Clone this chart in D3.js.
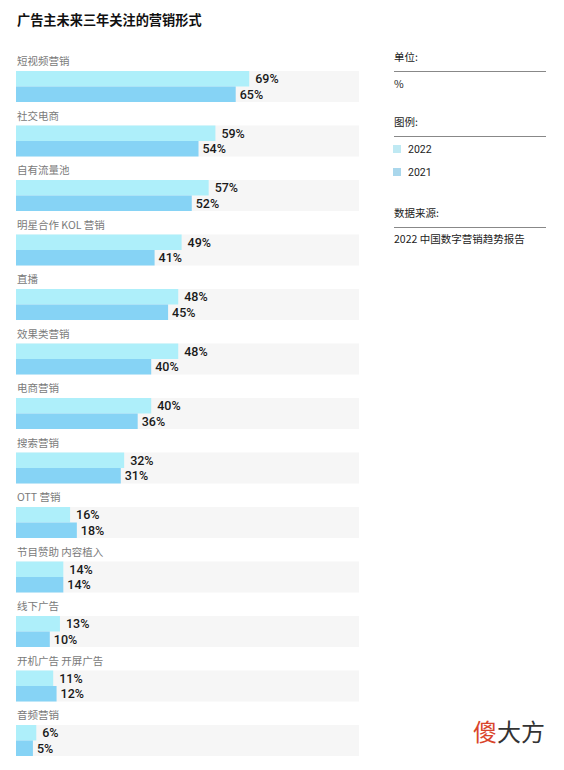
<!DOCTYPE html>
<html><head><meta charset="utf-8">
<script src="https://cdn.jsdelivr.net/npm/d3@7"></script>
<style>
html,body{margin:0;padding:0;background:#fff;}
svg{display:block;}
</style></head>
<body>
<script>
const title = "广告主未来三年关注的营销形式";
const categories = ["短视频营销","社交电商","自有流量池","明星合作 KOL 营销","直播","效果类营销","电商营销","搜索营销","OTT 营销","节目赞助 内容植入","线下广告","开机广告 开屏广告","音频营销"];
const values2022 = [69,59,57,49,48,48,40,32,16,14,13,11,6];
const values2021 = [65,54,52,41,45,40,36,31,18,14,10,12,5];
const seriesNames = ["2022","2021"];
const unitText = "%";
const sourceText = "2022 中国数字营销趋势报告";

const W = 564, H = 770;
const colors = {"2022":"#aeeffa","2021":"#86d3f5"};
const legendColors = {"2022":"#bfe9f3","2021":"#aad7ec"};
const font = "'Noto Sans CJK SC','Noto Sans',sans-serif";

const svg = d3.select("body").append("svg").attr("width",W).attr("height",H);

svg.append("text").attr("x",17).attr("y",25).text(title)
  .attr("font-family",font).attr("font-size",13.2).attr("font-weight","bold").attr("fill","#111");

const x = d3.scaleLinear().domain([0,100]).range([16,354]);
const groupStep = 54.5, firstTop = 71, barH = 15.5;
const y = d3.scaleLinear().domain([0,1]).range([firstTop, firstTop+groupStep]);

const g = svg.append("g");
categories.forEach((c,i)=>{
  const top = y(i);
  g.append("rect").attr("x",x(0)).attr("y",top).attr("width",359-x(0)).attr("height",barH*2).attr("fill","#f6f6f6");
  g.append("text").attr("x",17).attr("y",top-6).text(c)
    .attr("font-family",font).attr("font-size",10.5).attr("fill","#7a7a7a");
  [values2022[i], values2021[i]].forEach((v,j)=>{
    const s = seriesNames[j];
    g.append("rect").attr("x",x(0)).attr("y",top+j*barH).attr("width",x(v)-x(0)).attr("height",barH).attr("fill",colors[s]);
    g.append("text").attr("x",x(v)+(j===0?6:4)).attr("y",top+j*barH+barH/2+4.5).text(v+"%")
      .attr("font-family","'Roboto','DejaVu Sans',sans-serif").attr("font-size",12.5).attr("font-weight",500).attr("fill","#1a1a1a");
  });
});

// right panel
const px = 394, pw = 152;
function header(txt, yy){
  svg.append("text").attr("x",px).attr("y",yy).text(txt)
    .attr("font-family",font).attr("font-size",10.5).attr("fill","#222");
  svg.append("line").attr("x1",px).attr("x2",px+pw).attr("y1",yy+10.5).attr("y2",yy+10.5)
    .attr("stroke","#888").attr("stroke-width",1);
}
header("单位:",61);
svg.append("text").attr("x",px).attr("y",88).text(unitText)
  .attr("font-family",font).attr("font-size",10.5).attr("fill","#222");
header("图例:",126);
seriesNames.forEach((s,i)=>{
  const yy = 145 + i*23;
  svg.append("rect").attr("x",px-1).attr("y",yy).attr("width",8).attr("height",8).attr("fill",legendColors[s]);
  svg.append("text").attr("x",px+14).attr("y",yy+8).text(s)
    .attr("font-family","'Roboto',sans-serif").attr("font-size",10.5).attr("fill","#222");
});
header("数据来源:",217);
svg.append("text").attr("x",px).attr("y",243).text(sourceText)
  .attr("font-family",font).attr("font-size",10.5).attr("fill","#222");

// watermark
const wm = svg.append("text").attr("x",473).attr("y",741)
  .attr("font-family",font).attr("font-size",24);
wm.append("tspan").text("傻").attr("fill","#d9452b");
wm.append("tspan").text("大方").attr("fill","#333");
</script>
</body></html>
